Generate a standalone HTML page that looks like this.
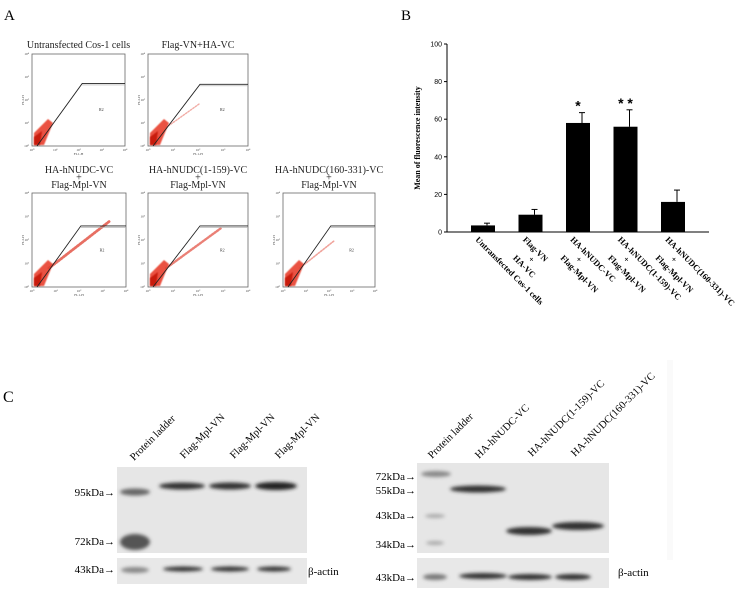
<!DOCTYPE html>
<html><head><meta charset="utf-8"><style>
html,body{margin:0;padding:0;background:#fff;width:746px;height:592px;overflow:hidden}
svg{display:block;font-family:"Liberation Serif",serif}
</style></head><body>
<svg id="fig" width="746" height="592" viewBox="0 0 746 592">
<defs>
<filter id="blur1" x="-50%" y="-50%" width="200%" height="200%"><feGaussianBlur stdDeviation="1.8"/></filter>
<filter id="blur2" x="-50%" y="-50%" width="200%" height="200%"><feGaussianBlur stdDeviation="0.6"/></filter>
</defs>
<text x="4" y="20" font-size="15">A</text>
<text x="401" y="20" font-size="15">B</text>
<text x="3" y="402" font-size="16">C</text>
<g id="panelA"></g>
<g id="panelB"></g>
<g id="panelC">
  <rect x="117" y="467" width="190" height="86" fill="#e6e6e6"/>
  <rect x="117" y="558" width="190" height="26" fill="#e8e8e8"/>
  <g filter="url(#blur1)">
    <ellipse cx="135" cy="492" rx="15" ry="3.5" fill="#666"/>
    <ellipse cx="135" cy="542" rx="15" ry="8" fill="#555"/>
    <ellipse cx="182" cy="486" rx="23" ry="3.5" fill="#333"/>
    <ellipse cx="230" cy="486" rx="21" ry="3.5" fill="#333"/>
    <ellipse cx="276" cy="486" rx="21" ry="4" fill="#222"/>
    <ellipse cx="135" cy="570" rx="14" ry="3" fill="#888"/>
    <ellipse cx="183" cy="569" rx="20" ry="2.5" fill="#333"/>
    <ellipse cx="230" cy="569" rx="19" ry="2.5" fill="#333"/>
    <ellipse cx="274" cy="569" rx="17" ry="2.5" fill="#333"/>
  </g>
  <g font-size="11" text-anchor="end">
    <text x="115" y="496">95kDa→</text>
    <text x="115" y="545">72kDa→</text>
    <text x="115" y="573">43kDa→</text>
  </g>
  <text x="308" y="575" font-size="11">β-actin</text>
  <g font-size="10.5">
    <text transform="translate(134,461) rotate(-45)">Protein ladder</text>
    <text transform="translate(184,459) rotate(-45)">Flag-Mpl-VN</text>
    <text transform="translate(234,459) rotate(-45)">Flag-Mpl-VN</text>
    <text transform="translate(279,459) rotate(-45)">Flag-Mpl-VN</text>
  </g>
  <rect x="417" y="463" width="192" height="90" fill="#e6e6e6"/>
  <rect x="417" y="558" width="192" height="30" fill="#e8e8e8"/>
  <rect x="667" y="360" width="6" height="200" fill="#fafafa"/>
  <g filter="url(#blur1)">
    <ellipse cx="436" cy="474" rx="15" ry="3" fill="#888"/>
    <ellipse cx="435" cy="516" rx="10" ry="2" fill="#aaa"/>
    <ellipse cx="435" cy="543" rx="9" ry="2" fill="#aaa"/>
    <ellipse cx="478" cy="489" rx="28" ry="3.5" fill="#333"/>
    <ellipse cx="529" cy="531" rx="23" ry="4" fill="#333"/>
    <ellipse cx="578" cy="526" rx="26" ry="4" fill="#333"/>
    <ellipse cx="435" cy="577" rx="12" ry="3" fill="#777"/>
    <ellipse cx="483" cy="576" rx="24" ry="3" fill="#333"/>
    <ellipse cx="530" cy="577" rx="22" ry="3" fill="#333"/>
    <ellipse cx="573" cy="577" rx="18" ry="3" fill="#333"/>
  </g>
  <g font-size="11" text-anchor="end">
    <text x="416" y="480">72kDa→</text>
    <text x="416" y="494">55kDa→</text>
    <text x="416" y="519">43kDa→</text>
    <text x="416" y="548">34kDa→</text>
    <text x="416" y="581">43kDa→</text>
  </g>
  <text x="618" y="576" font-size="11">β-actin</text>
  <g font-size="10.5">
    <text transform="translate(432,459) rotate(-45)">Protein ladder</text>
    <text transform="translate(479,459) rotate(-45)">HA-hNUDC-VC</text>
    <text transform="translate(532,457) rotate(-45)">HA-hNUDC(1-159)-VC</text>
    <text transform="translate(575,457) rotate(-45)">HA-hNUDC(160-331)-VC</text>
  </g>
</g>
</svg>
<script>
// ---- Panel B data ----
const categories = ["Untransfected Cos-1 cells", "Flag-VN+HA-VC", "HA-hNUDC-VC+Flag-Mpl-VN", "HA-hNUDC(1-159)-VC+Flag-Mpl-VN", "HA-hNUDC(160-331)-VC+Flag-Mpl-VN"];
const labelLines = [["Untransfected Cos-1 cells"], ["Flag-VN", "+", "HA-VC"], ["HA-hNUDC-VC", "+", "Flag-Mpl-VN"], ["HA-hNUDC(1-159)-VC", "+", "Flag-Mpl-VN"], ["HA-hNUDC(160-331)-VC", "+", "Flag-Mpl-VN"]];
const meanValues = [3.5, 9.2, 58, 56, 16];
const errorValues = [1.2, 2.8, 5.5, 9, 6.3];
const significance = ["", "", "*", "* *", ""];
const yTicks = [0, 20, 40, 60, 80, 100];

const NS = "http://www.w3.org/2000/svg";
function mk(tag, attrs, parent) {
  const e = document.createElementNS(NS, tag);
  for (const k in attrs) e.setAttribute(k, attrs[k]);
  parent.appendChild(e);
  return e;
}
const B = document.getElementById("panelB");
const axL = 447, axR = 709, axB = 232, axT = 44;
function yScale(v) { return axB - (v / 100) * (axB - axT); }
function xScale(i) { return 483 + i * ((673 - 483) / (categories.length - 1)); }
const yAxis = mk("line", {x1: axL, y1: axT, x2: axL, y2: axB, stroke: "#000", "stroke-width": 1}, B);


const xAxis = mk("line", {x1: axL, y1: axB, x2: axR, y2: axB, stroke: "#000", "stroke-width": 1}, B);


yTicks.forEach(t => {
  const y = yScale(t);
  mk("line", {x1: axL - 3, y1: y, x2: axL, y2: y, stroke: "#000"}, B);
  const tx = mk("text", {x: axL - 5, y: y + 2.5, "font-size": 7, "text-anchor": "end", "font-family": "Liberation Sans, sans-serif"}, B);
  tx.textContent = t;
  
  
});
const yt = mk("text", {transform: "translate(420,138) rotate(-90)", "font-size": 8, "font-weight": "bold", "text-anchor": "middle"}, B);
yt.textContent = "Mean of fluorescence intensity";


const bw = 24;
meanValues.forEach((v, i) => {
  const cx = xScale(i);
  const top = yScale(v), et = yScale(v + errorValues[i]);
  const eb = mk("line", {x1: cx + 4, y1: et, x2: cx + 4, y2: top, stroke: "#000", "stroke-width": 1}, B);
  
  
  mk("line", {x1: cx + 1, y1: et, x2: cx + 7, y2: et, stroke: "#000"}, B);
  const r = mk("rect", {x: cx - bw / 2, y: top, width: bw, height: axB - top, fill: "#000"}, B);
  
  
  if (significance[i]) {
    const s = mk("text", {x: cx, y: et - 2, "font-size": 14, "font-weight": "bold", "text-anchor": "middle", "font-family": "Liberation Sans, sans-serif"}, B);
    s.textContent = significance[i];
    
    
  }
  const g = mk("g", {transform: "translate(" + (cx - 6) + ",238) rotate(45)", "font-size": 8.5, "font-weight": "bold"}, B);
  
  
  labelLines[i].forEach((ln, j) => {
    const t = mk("text", j === 1 ? {x: 20, y: 3 + j * 10, "text-anchor": "middle"} : {x: j * 3, y: j * 10 + 3}, g);
    t.textContent = ln;
  });
});

// ---- Panel A flow cytometry plots ----
const A = document.getElementById("panelA");
const plots = [
  {x: 32, y: 54, w: 93, h: 92, title: ["Untransfected Cos-1 cells"], tail: 0, kx: 0.54, ky: 0.32},
  {x: 148, y: 54, w: 100, h: 92, title: ["Flag-VN+HA-VC"], tail: 0.3, kx: 0.52, ky: 0.33},
  {x: 32, y: 193, w: 94, h: 94, title: ["HA-hNUDC-VC", "+", "Flag-Mpl-VN"], tail: 1, kx: 0.52, ky: 0.35},
  {x: 148, y: 193, w: 100, h: 94, title: ["HA-hNUDC(1-159)-VC", "+", "Flag-Mpl-VN"], tail: 0.8, kx: 0.52, ky: 0.35},
  {x: 283, y: 193, w: 92, h: 94, title: ["HA-hNUDC(160-331)-VC", "+", "Flag-Mpl-VN"], tail: 0.4, kx: 0.52, ky: 0.35}
];
plots.forEach((p, i) => {
  const g = mk("g", {}, A);
  
  
  const cx = p.x + p.w / 2;
  p.title.forEach((ln, j) => {
    const t = mk("text", {x: cx, y: (p.title.length === 1 ? p.y - 6 : p.y - 20 + j * 7.5) , "font-size": 10, "text-anchor": "middle", fill: "#222"}, g);
    t.textContent = ln;
  });
  mk("rect", {x: p.x, y: p.y, width: p.w, height: p.h, fill: "#fff", stroke: "#666", "stroke-width": 0.8}, g);
  const bx = p.x + 2, by = p.y + p.h - 1;
  mk("polygon", {points: bx + "," + by + " " + (bx) + "," + (by - 12) + " " + (bx + 14) + "," + (by - 26) + " " + (bx + 19) + "," + (by - 22) + " " + (bx + 10) + "," + by, fill: "#e8402e", opacity: 0.9, filter: "url(#blur2)"}, g);
  mk("polygon", {points: bx + "," + by + " " + bx + "," + (by - 8) + " " + (bx + 8) + "," + (by - 14) + " " + (bx + 6) + "," + by, fill: "#c81e10", filter: "url(#blur2)"}, g);
  if (p.tail > 0) {
    const len = 0.25 + 0.55 * p.tail;
    mk("line", {x1: p.x + 0.18 * p.w, y1: p.y + 0.8 * p.h, x2: p.x + (0.18 + len * 0.8) * p.w, y2: p.y + (0.8 - len * 0.62) * p.h, stroke: "#e04030", "stroke-width": 0.8 + 2 * p.tail, "stroke-dasharray": "1.5 1.5", opacity: 0.3 + 0.45 * p.tail, "stroke-linecap": "round"}, g);
  }
  const kx = p.x + p.kx * p.w, ky = p.y + p.ky * p.h;
  mk("polyline", {points: (p.x + 5) + "," + (p.y + p.h) + " " + kx + "," + ky + " " + (p.x + p.w) + "," + ky, fill: "none", stroke: "#222", "stroke-width": 0.9}, g);
  mk("line", {x1: kx, y1: ky + 1.5, x2: p.x + p.w, y2: ky + 1.5, stroke: "#aaa", "stroke-width": 0.6}, g);
  const r2 = mk("text", {x: p.x + 0.72 * p.w, y: p.y + 0.62 * p.h, "font-size": 4, fill: "#333"}, g);
  r2.textContent = "R2";
  ["10⁰", "10¹", "10²", "10³", "10⁴"].forEach((lab, k) => {
    const tx = mk("text", {x: p.x + k * p.w / 4, y: p.y + p.h + 5, "font-size": 3.5, "text-anchor": "middle", fill: "#444"}, g);
    tx.textContent = lab;
    const ty = mk("text", {x: p.x - 3, y: p.y + p.h - k * p.h / 4 + 1, "font-size": 3.5, "text-anchor": "end", fill: "#444"}, g);
    ty.textContent = lab;
  });
  const xl = mk("text", {x: cx, y: p.y + p.h + 9, "font-size": 3.5, "text-anchor": "middle", fill: "#444"}, g);
  xl.textContent = "FL1-H";
  const yl = mk("text", {transform: "translate(" + (p.x - 8) + "," + (p.y + p.h / 2) + ") rotate(-90)", "font-size": 3.5, "text-anchor": "middle", fill: "#444"}, g);
  yl.textContent = "FL2-H";
});
</script>
</body></html>
